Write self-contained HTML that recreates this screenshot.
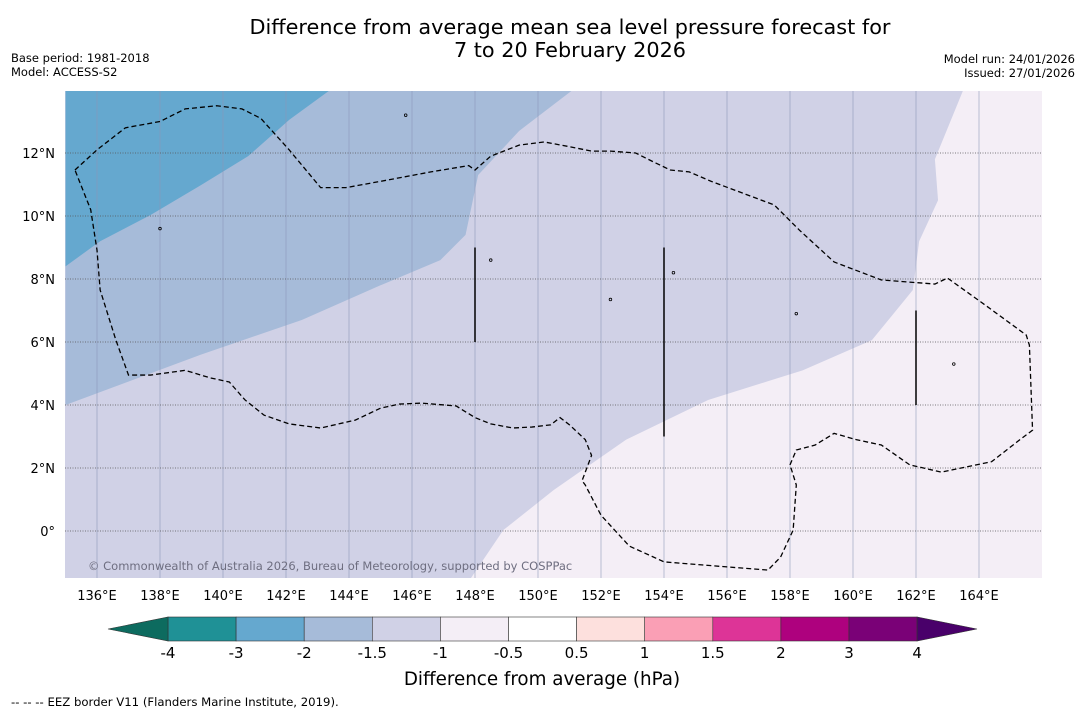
<!DOCTYPE html>
<html><head><meta charset="utf-8"><style>
body{margin:0;background:#fff;width:1085px;height:713px;overflow:hidden;font-family:"DejaVu Sans","Liberation Sans",sans-serif}
svg text{font-family:"DejaVu Sans","Liberation Sans",sans-serif}
</style></head><body>
<svg id="c" width="1085" height="713" xmlns="http://www.w3.org/2000/svg">
<text x="570" y="34" font-size="20.8" text-anchor="middle">Difference from average mean sea level pressure forecast for</text>
<text x="570" y="57" font-size="20.8" text-anchor="middle">7 to 20 February 2026</text>
<text x="11" y="62" font-size="11.5">Base period: 1981-2018</text>
<text x="11" y="76" font-size="11.5">Model: ACCESS-S2</text>
<text x="1075" y="63" font-size="11.5" text-anchor="end">Model run: 24/01/2026</text>
<text x="1075" y="77" font-size="11.5" text-anchor="end">Issued: 27/01/2026</text>
<g id="map"></g>
<g id="cbar"></g>
<text x="542" y="685" font-size="18.3" text-anchor="middle">Difference from average (hPa)</text>
<text x="11" y="706" font-size="11.7">--  --  -- EEZ border V11 (Flanders Marine Institute, 2019).</text>
</svg>
<script>
const lonTicks=[136,138,140,142,144,146,148,150,152,154,156,158,160,162,164];
const latTicks=[0,2,4,6,8,10,12];
const latLabels=["0°","2°N","4°N","6°N","8°N","10°N","12°N"];
const cbLevels=[-4,-3,-2,-1.5,-1,-0.5,0.5,1,1.5,2,3,4];
const cbColors=["#1f9196","#65a8cf","#a6bbd9","#d0d1e6","#f4eef6","#ffffff","#fde0dd","#fa9fb5","#dd3497","#ae017e","#7a0177"];
const darkRegion=[[135,14],[143.4,14],[142.1,13.05],[140.8,11.9],[139.3,10.98],[137.7,10.03],[136.1,9.2],[135,8.4]];
const midRegion=[[135,14],[151.1,14],[149.4,12.7],[148.1,11.3],[147.7,9.4],[146.9,8.6],[145,7.8],[142.5,6.7],[139.3,5.6],[135,4.0]];
const pinkRegion=[[163.5,14],[162.6,11.8],[162.7,10.5],[162.1,9.2],[161.9,7.65],[160.6,6.06],[158.4,5.1],[155.4,4.16],[152.8,2.9],[150.5,1.3],[148.9,0.03],[147.8,-1.6],[166,-1.6],[166,14]];
const eez=[[135.3,11.46],[136,12.1],[136.9,12.8],[138,13],[138.8,13.4],[139.8,13.5],[140.6,13.4],[141.2,13.1],[142.1,12.1],[143.1,10.9],[143.9,10.9],[145,11.1],[146.6,11.4],[147.8,11.6],[148,11.46],[148.5,11.9],[149.4,12.25],[150.2,12.35],[151,12.2],[151.7,12.06],[152.3,12.06],[153.1,12],[153.7,11.7],[154.2,11.46],[154.8,11.4],[155.5,11.1],[156.3,10.8],[157.5,10.35],[158.3,9.55],[159.4,8.54],[160.9,7.97],[162.6,7.84],[163,8.03],[164.2,7.17],[165.5,6.22],[165.6,5.9],[165.7,3.2],[165.3,2.9],[164.4,2.2],[162.8,1.87],[161.8,2.1],[160.9,2.73],[160.1,2.9],[159.4,3.1],[158.8,2.73],[158.2,2.57],[158,2.1],[158.2,1.46],[158.1,0.03],[157.7,-0.83],[157.3,-1.24],[156,-1.14],[154,-0.98],[152.9,-0.48],[152,0.5],[151.5,1.46],[151.4,1.6],[151.7,2.4],[151.5,2.9],[151,3.37],[150.7,3.6],[150.4,3.37],[149.8,3.3],[149.2,3.27],[148.5,3.4],[148,3.6],[147.4,3.97],[146.3,4.06],[145.6,4.03],[145,3.9],[144.2,3.52],[143.1,3.27],[142.1,3.4],[141.3,3.68],[140.7,4.16],[140.2,4.73],[139.6,4.86],[138.8,5.1],[137.7,4.95],[137,4.95],[136.6,6.06],[136.1,7.65],[136,8.92],[135.8,10.2],[135.3,11.46]];
const vLines=[[148,9,6],[154,9,3],[162,7,4]];
const islands=[[145.8,13.2],[138,9.6],[152.3,7.35],[158.2,6.9],[163.2,5.3],[148.5,8.6],[154.3,8.2]];
const NS="http://www.w3.org/2000/svg";
const X0=65,X1=1042,Y0=91,Y1=578;
const xs=lon=>97+(lon-136)*31.5;
const ys=lat=>531-lat*31.5;
function mk(t,a,p){const e=document.createElementNS(NS,t);for(const k in a)e.setAttribute(k,a[k]);p.appendChild(e);return e;}
const map=document.getElementById('map');
const defs=mk('defs',{},map);
const cp=mk('clipPath',{id:'clip'},defs);
mk('rect',{x:X0,y:Y0,width:X1-X0,height:Y1-Y0},cp);
const g=mk('g',{'clip-path':'url(#clip)'},map);
let r=mk('rect',{x:X0,y:Y0,width:X1-X0,height:Y1-Y0,fill:'#d0d1e6'},g);

function poly(pts,fill,name){const p=mk('polygon',{points:pts.map(q=>xs(q[0])+','+ys(q[1])).join(' '),fill:fill},g);

}
poly(midRegion,'#a6bbd9','anomaly-fill-minus2');
poly(darkRegion,'#65a8cf','anomaly-fill-minus3');
poly(pinkRegion,'#f4eef6','anomaly-fill-minus1');
lonTicks.forEach(l=>{const e=mk('line',{x1:xs(l),x2:xs(l),y1:Y0,y2:Y1,stroke:'#8c97b8','stroke-width':0.8,opacity:0.7},g);
});
latTicks.forEach(l=>{const e=mk('line',{x1:X0,x2:X1,y1:ys(l),y2:ys(l),stroke:'#555','stroke-width':0.8,'stroke-dasharray':'1,1.5'},g);
});
let eo=mk('polyline',{points:eez.map(q=>xs(q[0])+','+ys(q[1])).join(' '),fill:'none',stroke:'#000','stroke-width':1.3,'stroke-dasharray':'5,3'},g);

vLines.forEach(v=>{const e=mk('line',{x1:xs(v[0]),x2:xs(v[0]),y1:ys(v[1]),y2:ys(v[2]),stroke:'#000','stroke-width':1.5},g);
});
islands.forEach(v=>{const e=mk('circle',{cx:xs(v[0]),cy:ys(v[1]),r:1.3,fill:'none',stroke:'#000','stroke-width':0.8},g);
});
let ct=mk('text',{x:88,y:570,'font-size':11.5,fill:'#6e6e80'},g);ct.textContent='© Commonwealth of Australia 2026, Bureau of Meteorology, supported by COSPPac';

lonTicks.forEach(l=>{const t=mk('text',{x:xs(l),y:600,'font-size':13,'text-anchor':'middle'},map);t.textContent=l+'°E';
});
latTicks.forEach((l,i)=>{const t=mk('text',{x:55,y:ys(l)+5,'font-size':13,'text-anchor':'end'},map);t.textContent=latLabels[i];
});
const cb=document.getElementById('cbar');
const cbX0=168,cbW=68.1,cbY=617,cbH=24;
cbColors.forEach((c,i)=>{const e=mk('rect',{x:cbX0+i*cbW,y:cbY,width:cbW,height:cbH,fill:c,stroke:'#333','stroke-width':0.6},cb);
});
const cbX1=cbX0+cbColors.length*cbW;
let tl=mk('polygon',{points:`${cbX0},${cbY} ${cbX0},${cbY+cbH} 108,${cbY+cbH/2}`,fill:'#0d6b5f',stroke:'#333','stroke-width':0.6},cb);

let tr=mk('polygon',{points:`${cbX1},${cbY} ${cbX1},${cbY+cbH} 977,${cbY+cbH/2}`,fill:'#49006a',stroke:'#333','stroke-width':0.6},cb);

cbLevels.forEach((v,i)=>{const t=mk('text',{x:cbX0+i*cbW,y:658,'font-size':15,'text-anchor':'middle'},cb);t.textContent=String(v);
});
</script>
</body></html>
